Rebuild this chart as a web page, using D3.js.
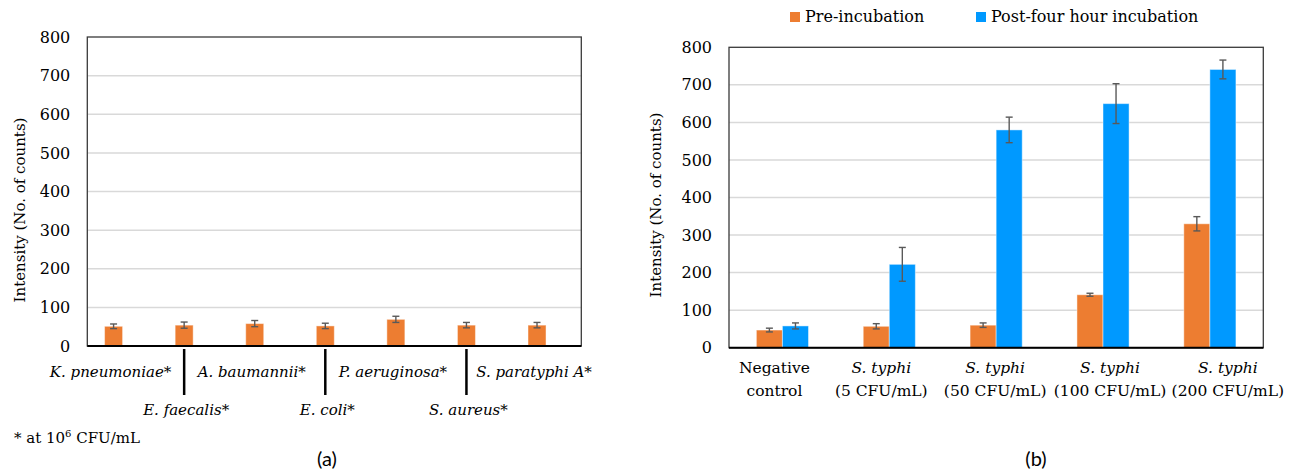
<!DOCTYPE html>
<html>
<head>
<meta charset="utf-8">
<script src="https://cdn.jsdelivr.net/npm/d3@7"></script>
<style>
    body { margin: 0; background: #fff; }
    svg text { font-family: "DejaVu Serif", serif; fill: #000; }
</style>
</head>
<body>
<svg id="chart" width="1300" height="471"></svg>
<script>
// values
var yTicks = [0, 100, 200, 300, 400, 500, 600, 700, 800];

// (a) other bacteria at 10^6 CFU/mL
var leftCategories = ["K. pneumoniae*", "E. faecalis*", "A. baumannii*", "E. coli*", "P. aeruginosa*", "S. aureus*", "S. paratyphi A*"];
var leftValues = [51, 54, 58, 52, 69, 54, 54];
var leftErrors = [6, 8, 8, 7, 8, 7, 7];

// (b) S. typhi dilutions
var rightLine1 = ["Negative", "S. typhi", "S. typhi", "S. typhi", "S. typhi"];
var rightLine2 = ["control", "(5 CFU/mL)", "(50 CFU/mL)", "(100 CFU/mL)", "(200 CFU/mL)"];
var seriesNames = ["Pre-incubation", "Post-four hour incubation"];
var preValues = [47, 57, 60, 141, 330];
var preErrors = [5, 7, 6, 4, 19];
var postValues = [58, 222, 580, 650, 741];
var postErrors = [8, 45, 34, 53, 25];

var colors = { "Pre-incubation": "#ED7D31", "Post-four hour incubation": "#0099FF" };

var svg = d3.select("#chart");

function drawFrame(g, x0, x1, y) {
    // grid lines
    g.selectAll("line.grid")
        .data(yTicks.filter(function(t) { return t > 0 && t < 800; }))
        .enter()
        .append("line")
        .attr("class", "grid")
        .attr("x1", x0).attr("x2", x1)
        .attr("y1", function(d) { return y(d); })
        .attr("y2", function(d) { return y(d); })
        .attr("stroke", "#d9d9d9")
        .attr("stroke-width", 1.5);

    g.append("rect")
        .attr("x", x0).attr("y", y(800))
        .attr("width", x1 - x0).attr("height", y(0) - y(800))
        .attr("fill", "none")
        .attr("stroke", "#3a3a3a")
        .attr("stroke-width", 1.3);

    var axis = d3.axisLeft(y).tickValues(yTicks).tickSize(0).tickPadding(17);
    var ax = g.append("g").attr("transform", "translate(" + x0 + ",0)").call(axis);
    ax.select(".domain").remove();
    ax.selectAll("text")
        .style("font-family", "DejaVu Serif")
        .style("font-size", "16px")
        .attr("fill", "#000");
}

function drawBars(g, data, y, color) {
    g.selectAll("rect.bar")
        .data(data)
        .enter()
        .append("rect")
        .attr("class", "bar")
        .attr("x", function(d) { return d.x; })
        .attr("width", function(d) { return d.w; })
        .attr("y", function(d) { return y(d.v); })
        .attr("height", function(d) { return y(0) - y(d.v); })
        .attr("fill", color)
        .attr("stroke", "#ffffff")
        .attr("stroke-opacity", 0.45)
        .attr("stroke-width", 1);

    var err = g.selectAll("g.err")
        .data(data)
        .enter()
        .append("g")
        .attr("class", "err")
        .attr("stroke", "#595959")
        .attr("stroke-width", 1.4);

    err.append("line")
        .attr("x1", function(d) { return d.x + d.w / 2; })
        .attr("x2", function(d) { return d.x + d.w / 2; })
        .attr("y1", function(d) { return y(d.v + d.e); })
        .attr("y2", function(d) { return y(d.v - d.e); });

    [1, -1].forEach(function(s) {
        err.append("line")
            .attr("x1", function(d) { return d.x + d.w / 2 - 3.5; })
            .attr("x2", function(d) { return d.x + d.w / 2 + 3.5; })
            .attr("y1", function(d) { return y(d.v + s * d.e); })
            .attr("y2", function(d) { return y(d.v + s * d.e); });
    });
}

// ---------- chart (a) ----------
var aLeft = 87.3, aRight = 581.3;
var yA = d3.scaleLinear().domain([0, 800]).range([346, 37]);
var xA = d3.scaleBand().domain(leftCategories).range([aLeft, aRight]).padding(0);
// excel clustered slot: the measured series sits in the first of two slots
var xA1 = d3.scaleBand().domain(["measured", "empty"]).range([0, xA.bandwidth()]).paddingInner(0).paddingOuter(0.96);

var gA = svg.append("g");
drawFrame(gA, aLeft, aRight, yA);

var dataA = leftCategories.map(function(c, i) {
    return { x: xA(c) + xA1("measured"), w: xA1.bandwidth(), v: leftValues[i], e: leftErrors[i] };
});
drawBars(gA, dataA, yA, "#ED7D31");

gA.append("line")
    .attr("x1", aLeft).attr("x2", aRight)
    .attr("y1", yA(0)).attr("y2", yA(0))
    .attr("stroke", "#000").attr("stroke-width", 2);

// labels alternate between two rows, separated by short bars
leftCategories.forEach(function(c, i) {
    var cx = xA(c) + xA1("measured") + xA1.bandwidth() / 2;
    if (i % 2 === 0) {
        gA.append("text")
            .attr("x", cx - 3).attr("y", 377)
            .attr("text-anchor", "middle")
            .style("font-size", "15px")
            .style("font-style", "italic")
            .text(c);
    } else {
        gA.append("line")
            .attr("x1", cx).attr("x2", cx)
            .attr("y1", 349).attr("y2", 395)
            .attr("stroke", "#000").attr("stroke-width", 2.5);
        gA.append("text")
            .attr("x", cx + 2).attr("y", 415)
            .attr("text-anchor", "middle")
            .style("font-size", "15px")
            .style("font-style", "italic")
            .text(c);
    }
});

var note = gA.append("text").attr("x", 14).attr("y", 443).style("font-size", "15px");
note.append("tspan").text("* at 10");
note.append("tspan").attr("dy", -6).style("font-size", "10px").text("6");
note.append("tspan").attr("dy", 6).text(" CFU/mL");

gA.append("text")
    .attr("transform", "translate(25,210) rotate(-90)")
    .attr("text-anchor", "middle")
    .style("font-size", "15px")
    .text("Intensity (No. of counts)");

svg.append("text")
    .attr("x", 327).attr("y", 466)
    .attr("text-anchor", "middle")
    .style("font-family", "Lato, sans-serif")
    .style("font-size", "20px")
    .text("(a)");

// ---------- chart (b) ----------
var bLeft = 729, bRight = 1263.3;
var yB = d3.scaleLinear().domain([0, 800]).range([347.7, 47.3]);
var xB = d3.scaleBand().domain(d3.range(rightLine1.length)).range([bLeft, bRight]).padding(0);
var xB1 = d3.scaleBand().domain(seriesNames).range([0, xB.bandwidth()]).paddingInner(0).paddingOuter(1.05);

var gB = svg.append("g");
drawFrame(gB, bLeft, bRight, yB);

var seriesData = [
    { name: "Pre-incubation", values: preValues, errors: preErrors },
    { name: "Post-four hour incubation", values: postValues, errors: postErrors }
];
seriesData.forEach(function(s) {
    var d = s.values.map(function(v, i) {
        return { x: xB(i) + xB1(s.name), w: xB1.bandwidth(), v: v, e: s.errors[i] };
    });
    drawBars(gB.append("g"), d, yB, colors[s.name]);
});

gB.append("line")
    .attr("x1", bLeft).attr("x2", bRight)
    .attr("y1", yB(0)).attr("y2", yB(0))
    .attr("stroke", "#000").attr("stroke-width", 2);

// excel nudges the wide labels apart so they don't collide
var labelShift = [-8, -8, -1, 7, 18];
rightLine1.forEach(function(t, i) {
    var cx = xB(i) + xB.bandwidth() / 2 + labelShift[i];
    gB.append("text")
        .attr("x", cx).attr("y", 373)
        .attr("text-anchor", "middle")
        .style("font-size", "15.5px")
        .style("font-style", i === 0 ? "normal" : "italic")
        .text(t);
    gB.append("text")
        .attr("x", cx).attr("y", 396)
        .attr("text-anchor", "middle")
        .style("font-size", "15.5px")
        .text(rightLine2[i]);
});

gB.append("text")
    .attr("transform", "translate(661,205) rotate(-90)")
    .attr("text-anchor", "middle")
    .style("font-size", "15px")
    .text("Intensity (No. of counts)");

// legend
var legendX = [790, 976];
var legend = gB.selectAll("g.legend")
    .data(seriesNames)
    .enter()
    .append("g")
    .attr("class", "legend")
    .attr("transform", function(d, i) { return "translate(" + legendX[i] + ",12)"; });
legend.append("rect")
    .attr("width", 10).attr("height", 10)
    .attr("fill", function(d) { return colors[d]; });
legend.append("text")
    .attr("x", 15).attr("y", 10)
    .style("font-size", "16px")
    .text(function(d) { return d; });

svg.append("text")
    .attr("x", 1036).attr("y", 466)
    .attr("text-anchor", "middle")
    .style("font-family", "Lato, sans-serif")
    .style("font-size", "20px")
    .text("(b)");
</script>
</body>
</html>
